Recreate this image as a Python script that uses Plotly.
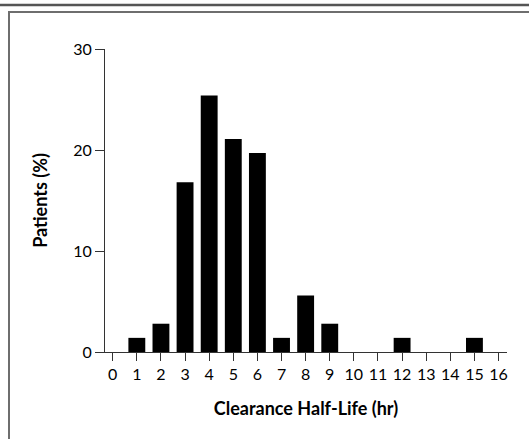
import plotly.graph_objects as go

half_life_hr = [1, 2, 3, 4, 5, 6, 7, 8, 9, 12, 15]
patients_pct = [1.4, 2.8, 16.8, 25.4, 21.1, 19.7, 1.4, 5.6, 2.8, 1.4, 1.4]
x_ticks = list(range(0, 17))
y_ticks = [0, 10, 20, 30]

W, H = 529, 439
ML, MR, MT, MB = 105, 22, 49, 87
PW, PH = W - ML - MR, H - MT - MB

def px_x(X):
    return (X - ML) / PW

def px_y(Y):
    return (H - MB - Y) / PH

FONT = "Lato"

fig = go.Figure(go.Bar(
    x=half_life_hr, y=patients_pct, width=0.7,
    marker=dict(color="black", line=dict(width=0)),
))

fig.update_layout(
    width=W, height=H,
    margin=dict(l=ML, r=MR, t=MT, b=MB),
    paper_bgcolor="white", plot_bgcolor="white",
    showlegend=False,
    font=dict(family=FONT, color="black", size=16),
    xaxis=dict(
        range=[-0.32, 16.35], tickmode="array", tickvals=x_ticks,
        ticktext=[str(t) for t in x_ticks],
        showgrid=False, zeroline=False, showline=True, linecolor="#333", linewidth=1,
        ticks="outside", ticklen=8, tickcolor="#333", tickwidth=1,
        tickfont=dict(size=16, family=FONT),
        title=dict(text="<b>Clearance Half-Life (hr)</b>", font=dict(size=18, family=FONT), standoff=20),
        automargin=False,
    ),
    yaxis=dict(
        range=[0, 30], tickmode="array", tickvals=y_ticks,
        showgrid=False, zeroline=False, showline=True, linecolor="#333", linewidth=1,
        ticks="outside", ticklen=9, tickcolor="#333", tickwidth=1,
        tickfont=dict(size=16, family=FONT),
        title=dict(text="<b>Patients (%)</b>", font=dict(size=18, family=FONT), standoff=20),
        automargin=False,
    ),
    shapes=[
        dict(type="line", xref="paper", yref="paper",
             x0=px_x(-5), x1=px_x(W + 200), y0=px_y(5), y1=px_y(5),
             line=dict(color="#555", width=2.5)),
        dict(type="rect", xref="paper", yref="paper",
             x0=px_x(9), x1=px_x(W + 200), y0=px_y(H + 100), y1=px_y(12),
             line=dict(color="#6e6e6e", width=2), fillcolor="rgba(0,0,0,0)", layer="below"),
    ],
)

fig.write_html(
    "out.html",
    config={"displayModeBar": False},
    post_script="document.body.style.margin='0';document.body.style.overflow='hidden';",
)
